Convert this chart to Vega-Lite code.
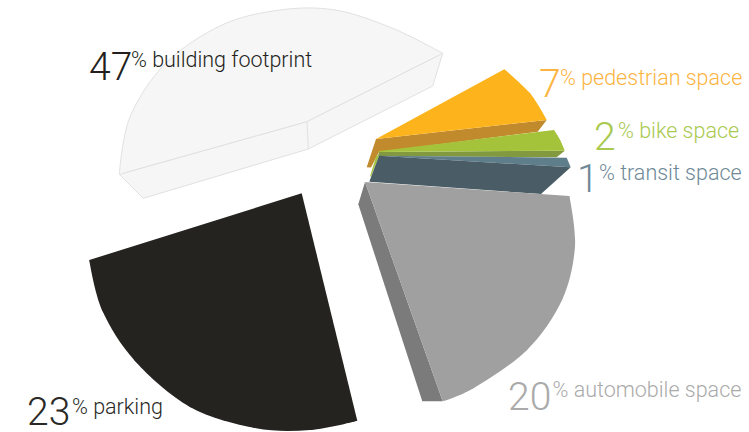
{
  "$schema": "https://vega.github.io/schema/vega-lite/v6.json",
  "width": 749,
  "height": 432,
  "padding": 0,
  "autosize": "none",
  "background": "white",
  "view": {"stroke": null},
  "datasets": {
    "building": [
      {"face":"building side","pt":1,"x":119.3,"y":174.3},{"face":"building side","pt":2,"x":306.7,"y":121.7},{"face":"building side","pt":3,"x":442.7,"y":53.3},{"face":"building side","pt":4,"x":432.7,"y":86},{"face":"building side","pt":5,"x":308.3,"y":149},{"face":"building side","pt":6,"x":143.3,"y":198.3},{"face":"building side","pt":7,"x":119.3,"y":174.3},
      {"face":"building seam","pt":1,"x":307,"y":121.7},{"face":"building seam","pt":2,"x":308.3,"y":149},
      {"face":"building wedge","pt":1,"x":119.3,"y":174.3},{"face":"building wedge","pt":2,"x":306.7,"y":121.7},{"face":"building wedge","pt":3,"x":442.7,"y":53.3}
    ],
    "buildingRim": [
      {"pt":1,"x":119.3,"y":174.3},{"pt":2,"x":130,"y":117},{"pt":3,"x":166,"y":63},{"pt":4,"x":222,"y":25},{"pt":5,"x":280,"y":10},{"pt":6,"x":335,"y":10},{"pt":7,"x":392,"y":28},{"pt":8,"x":442.7,"y":53.3}
    ],
    "slices": [
      {"face":"pedestrian side","pt":1,"x":366.7,"y":167.3},{"face":"pedestrian side","pt":2,"x":376,"y":139},{"face":"pedestrian side","pt":3,"x":546.7,"y":120},{"face":"pedestrian side","pt":4,"x":537.7,"y":131.7},{"face":"pedestrian side","pt":5,"x":379,"y":152},{"face":"pedestrian side","pt":6,"x":371,"y":167.5},
      {"face":"pedestrian top","pt":1,"x":376,"y":139},{"face":"pedestrian top","pt":2,"x":504.3,"y":69.3},{"face":"pedestrian top","pt":3,"x":530,"y":93.3},{"face":"pedestrian top","pt":4,"x":546.7,"y":120},
      {"face":"bike edge","pt":1,"x":370,"y":176.5},{"face":"bike edge","pt":2,"x":376.5,"y":155},{"face":"bike edge","pt":3,"x":379,"y":156},{"face":"bike edge","pt":4,"x":371,"y":176.5},
      {"face":"bike side","pt":1,"x":379,"y":152},{"face":"bike side","pt":2,"x":564.7,"y":150.7},{"face":"bike side","pt":3,"x":556.7,"y":157.3},{"face":"bike side","pt":4,"x":378,"y":156},
      {"face":"bike top","pt":1,"x":379.3,"y":151},{"face":"bike top","pt":2,"x":554,"y":130},{"face":"bike top","pt":3,"x":560,"y":140},{"face":"bike top","pt":4,"x":564.7,"y":150.7},{"face":"bike top","pt":5,"x":379,"y":152},
      {"face":"transit rim","pt":1,"x":379,"y":155.7},{"face":"transit rim","pt":2,"x":566.7,"y":157.7},{"face":"transit rim","pt":3,"x":570.7,"y":167.3},
      {"face":"transit top","pt":1,"x":379,"y":155.7},{"face":"transit top","pt":2,"x":570.7,"y":167.3},{"face":"transit top","pt":3,"x":541,"y":194},{"face":"transit top","pt":4,"x":369.3,"y":181.7},
      {"face":"automobile side","pt":1,"x":365,"y":182},{"face":"automobile side","pt":2,"x":358.3,"y":204.3},{"face":"automobile side","pt":3,"x":422.3,"y":401.3},{"face":"automobile side","pt":4,"x":442.7,"y":401.3},
      {"face":"automobile top","pt":1,"x":365,"y":182},{"face":"automobile top","pt":2,"x":569.3,"y":196},{"face":"automobile top","pt":3,"x":575,"y":246},{"face":"automobile top","pt":4,"x":562,"y":300},{"face":"automobile top","pt":5,"x":527,"y":350},{"face":"automobile top","pt":6,"x":473.3,"y":388.3},{"face":"automobile top","pt":7,"x":442.7,"y":401.3},
      {"face":"parking top","pt":1,"x":301.7,"y":193.3},{"face":"parking top","pt":2,"x":89.3,"y":260},{"face":"parking top","pt":3,"x":102,"y":310},{"face":"parking top","pt":4,"x":135,"y":361},{"face":"parking top","pt":5,"x":190,"y":407},{"face":"parking top","pt":6,"x":255,"y":428},{"face":"parking top","pt":7,"x":310,"y":430},{"face":"parking top","pt":8,"x":357.3,"y":420.7}
    ],
    "rims": [
      {"face":"pedestrian top","pt":1,"x":504.3,"y":69.3},{"face":"pedestrian top","pt":2,"x":530,"y":93.3},{"face":"pedestrian top","pt":3,"x":546.7,"y":120},
      {"face":"bike top","pt":1,"x":554,"y":130},{"face":"bike top","pt":2,"x":560,"y":140},{"face":"bike top","pt":3,"x":564.7,"y":150.7},
      {"face":"automobile top","pt":1,"x":569.3,"y":196},{"face":"automobile top","pt":2,"x":575,"y":246},{"face":"automobile top","pt":3,"x":562,"y":300},{"face":"automobile top","pt":4,"x":527,"y":350},{"face":"automobile top","pt":5,"x":473.3,"y":388.3},{"face":"automobile top","pt":6,"x":442.7,"y":401.3},
      {"face":"parking top","pt":1,"x":89.3,"y":260},{"face":"parking top","pt":2,"x":102,"y":310},{"face":"parking top","pt":3,"x":135,"y":361},{"face":"parking top","pt":4,"x":190,"y":407},{"face":"parking top","pt":5,"x":255,"y":428},{"face":"parking top","pt":6,"x":310,"y":430},{"face":"parking top","pt":7,"x":357.3,"y":420.7}
    ],
    "labels": [
      {"use":"building footprint","share":47,"text":"% building footprint","nx":89,"ny":80,"tx":131,"ty":67},
      {"use":"pedestrian space","share":7,"text":"% pedestrian space","nx":539,"ny":97,"tx":560,"ty":85},
      {"use":"bike space","share":2,"text":"% bike space","nx":594,"ny":150,"tx":618,"ty":137.5},
      {"use":"transit space","share":1,"text":"% transit space","nx":577,"ny":192,"tx":599,"ty":180},
      {"use":"automobile space","share":20,"text":"% automobile space","nx":508,"ny":410,"tx":552.5,"ty":397},
      {"use":"parking","share":23,"text":"% parking","nx":27,"ny":425,"tx":72,"ty":414}
    ]
  },
  "resolve": {"scale": {"fill": "independent", "color": "independent"}},
  "layer": [
    {
      "data": {"name": "building"},
      "mark": {"type": "line", "stroke": "#e1e1e1", "strokeWidth": 1, "interpolate": "linear", "strokeJoin": "round"},
      "encoding": {
        "x": {"field": "x", "type": "quantitative", "scale": {"domain": [0, 749], "range": [0, 749]}, "axis": null},
        "y": {"field": "y", "type": "quantitative", "scale": {"domain": [0, 432], "range": [0, 432]}, "axis": null},
        "order": {"field": "pt", "type": "quantitative"},
        "detail": {"field": "face"},
        "fill": {"value": "#f6f6f6"}
      }
    },
    {
      "data": {"name": "buildingRim"},
      "mark": {"type": "line", "stroke": "#e1e1e1", "strokeWidth": 1, "interpolate": "cardinal"},
      "encoding": {
        "x": {"field": "x", "type": "quantitative", "scale": {"domain": [0, 749], "range": [0, 749]}, "axis": null},
        "y": {"field": "y", "type": "quantitative", "scale": {"domain": [0, 432], "range": [0, 432]}, "axis": null},
        "order": {"field": "pt", "type": "quantitative"},
        "fill": {"value": "#f6f6f6"}
      }
    },
    {
      "data": {"name": "slices"},
      "mark": {"type": "line", "strokeWidth": 0, "interpolate": "linear"},
      "encoding": {
        "x": {"field": "x", "type": "quantitative", "scale": {"domain": [0, 749], "range": [0, 749]}, "axis": null},
        "y": {"field": "y", "type": "quantitative", "scale": {"domain": [0, 432], "range": [0, 432]}, "axis": null},
        "order": {"field": "pt", "type": "quantitative"},
        "detail": {"field": "face"},
        "fill": {
          "field": "face",
          "type": "nominal",
          "legend": null,
          "scale": {
            "domain": ["pedestrian side","pedestrian top","bike edge","bike side","bike top","transit rim","transit top","automobile side","automobile top","parking top"],
            "range": ["#c18a2c","#fdb41c","#a4c23c","#83993f","#a5c33a","#5f7e8c","#4a5d67","#7b7b7b","#a0a0a0","#24231f"]
          }
        }
      }
    },
    {
      "data": {"name": "rims"},
      "mark": {"type": "line", "strokeWidth": 0, "interpolate": "cardinal"},
      "encoding": {
        "x": {"field": "x", "type": "quantitative", "scale": {"domain": [0, 749], "range": [0, 749]}, "axis": null},
        "y": {"field": "y", "type": "quantitative", "scale": {"domain": [0, 432], "range": [0, 432]}, "axis": null},
        "order": {"field": "pt", "type": "quantitative"},
        "detail": {"field": "face"},
        "fill": {
          "field": "face",
          "type": "nominal",
          "legend": null,
          "scale": {
            "domain": ["pedestrian top","bike top","automobile top","parking top"],
            "range": ["#fdb41c","#a5c33a","#a0a0a0","#24231f"]
          }
        }
      }
    },
    {
      "data": {"name": "labels"},
      "mark": {"type": "text", "font": "Roboto", "fontWeight": 300, "fontSize": 39, "align": "left", "baseline": "alphabetic"},
      "encoding": {
        "x": {"field": "nx", "type": "quantitative", "scale": {"domain": [0, 749], "range": [0, 749]}, "axis": null},
        "y": {"field": "ny", "type": "quantitative", "scale": {"domain": [0, 432], "range": [0, 432]}, "axis": null},
        "text": {"field": "share", "type": "quantitative"},
        "color": {
          "field": "use",
          "type": "nominal",
          "legend": null,
          "scale": {
            "domain": ["building footprint","pedestrian space","bike space","transit space","automobile space","parking"],
            "range": ["#231f20","#fcb441","#a9c94f","#6e8997","#aaaaaa","#2a2926"]
          }
        }
      }
    },
    {
      "data": {"name": "labels"},
      "mark": {"type": "text", "font": "Roboto", "fontWeight": 300, "fontSize": 21.5, "align": "left", "baseline": "alphabetic"},
      "encoding": {
        "x": {"field": "tx", "type": "quantitative", "scale": {"domain": [0, 749], "range": [0, 749]}, "axis": null},
        "y": {"field": "ty", "type": "quantitative", "scale": {"domain": [0, 432], "range": [0, 432]}, "axis": null},
        "text": {"field": "text", "type": "nominal"},
        "color": {
          "field": "use",
          "type": "nominal",
          "legend": null,
          "scale": {
            "domain": ["building footprint","pedestrian space","bike space","transit space","automobile space","parking"],
            "range": ["#231f20","#fcb441","#a9c94f","#6e8997","#aaaaaa","#2a2926"]
          }
        }
      }
    }
  ]
}
